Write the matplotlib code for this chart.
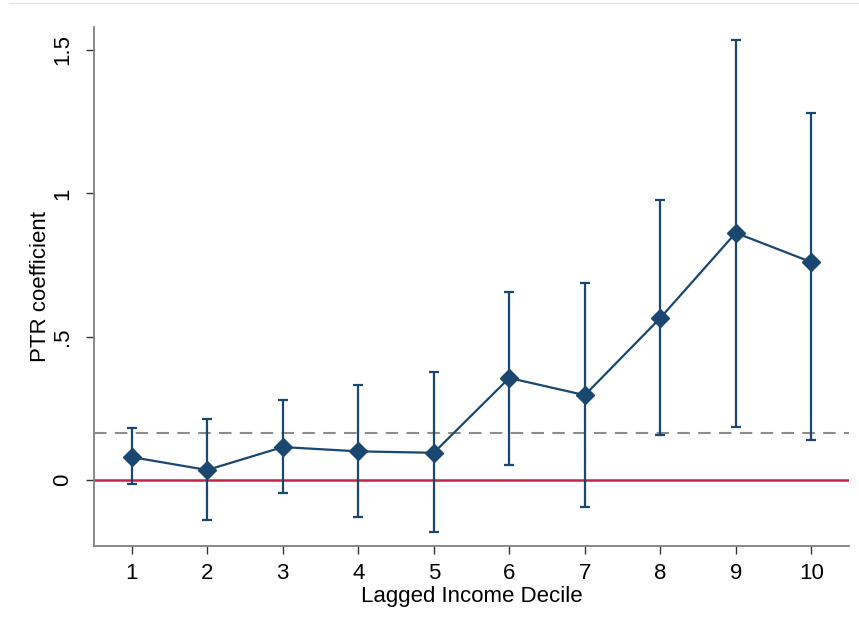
import numpy as np
import matplotlib
matplotlib.use("Agg")
import matplotlib.pyplot as plt
from matplotlib.lines import Line2D

plt.rcParams['font.family'] = ['Liberation Sans', 'DejaVu Sans']

deciles = [1, 2, 3, 4, 5, 6, 7, 8, 9, 10]
coef = [0.080, 0.035, 0.115, 0.100, 0.095, 0.356, 0.296, 0.565, 0.862, 0.760]
ci_low = [-0.014, -0.140, -0.045, -0.130, -0.180, 0.052, -0.094, 0.157, 0.185, 0.140]
ci_high = [0.180, 0.212, 0.280, 0.330, 0.377, 0.656, 0.687, 0.977, 1.535, 1.280]
avg_coef = 0.164
ytick_vals = [0, 0.5, 1, 1.5]
ytick_labels = ['0', '.5', '1', '1.5']

navy = '#1a476f'

fig = plt.figure(figsize=(8.59, 6.28), dpi=100)
ax = fig.add_axes([0.1094, 0.1306, 0.8790, 0.8264])

coef = np.array(coef)
yerr = [coef - np.array(ci_low), np.array(ci_high) - coef]
ax.errorbar(deciles, coef, yerr=yerr, fmt='none', ecolor=navy, elinewidth=1.6,
            capsize=3.4, capthick=1.6, zorder=3)
ax.plot(deciles, coef, color=navy, lw=1.6, marker='D', markersize=9.5, zorder=4)

ax.axhline(0, color='#c8214a', lw=1.8, zorder=2)
ax.axhline(avg_coef, color='#8c8c8c', lw=1.5, ls=(0, (6, 4)), zorder=2)

ax.set_xlim(0.5, 10.5)
ax.set_ylim(-0.23, 1.58)
ax.set_xticks(deciles)
ax.set_yticks(ytick_vals)
ax.set_yticklabels(ytick_labels, rotation=90, va='center')
ax.tick_params(labelsize=16, color='#333333', length=6, width=1)
ax.tick_params(axis='x', pad=6)
ax.tick_params(axis='y', pad=9)

for s in ['top', 'right']:
    ax.spines[s].set_visible(False)
for s in ['left', 'bottom']:
    ax.spines[s].set_color('#808080')
    ax.spines[s].set_linewidth(1.3)

ax.set_xlabel('Lagged Income Decile', fontsize=16, labelpad=2)
ax.set_ylabel('PTR coefficient', fontsize=16, labelpad=1)

fig.add_artist(Line2D([0.01, 1.0], [0.995, 0.995], color='#e6e6e6', lw=1))

fig.savefig('out.png', dpi=100)
